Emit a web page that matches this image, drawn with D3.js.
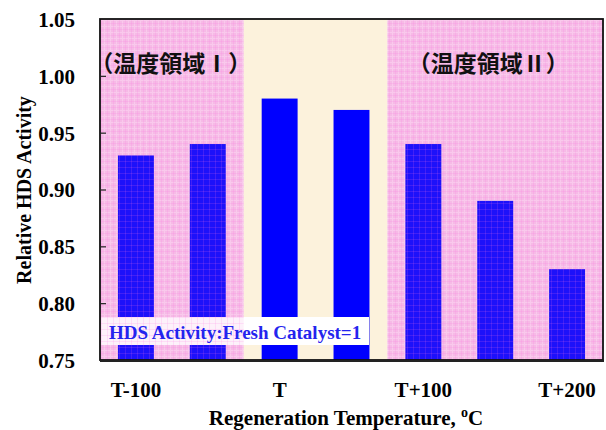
<!DOCTYPE html>
<html><head><meta charset="utf-8">
<script src="https://cdn.jsdelivr.net/npm/d3@7/dist/d3.min.js"></script>
<style>body{margin:0;background:#fff}svg{display:block}
.serif{font-family:"Liberation Serif","Times New Roman",Times,serif;font-weight:bold}
.cjk{font-family:"Noto Sans CJK JP","Noto Sans CJK SC",sans-serif}
</style>
</head><body><svg id="c" width="606" height="430"></svg>
<script>
const categories = ["T-100","T-50","T","T+50","T+100","T+150","T+200"];
const activity = [0.93,0.94,0.98,0.97,0.94,0.89,0.83];
const tickLabels = ["T-100","T","T+100","T+200"];
const yTicks = [0.75,0.80,0.85,0.90,0.95,1.00,1.05];
const regionLabels = ["（温度領域Ⅰ）","（温度領域Ⅱ）"];
const regions = [
  {from:"T-100", to:"T-50", kind:"pink"},
  {from:"T", to:"T+50", kind:"beige"},
  {from:"T+100", to:"T+200", kind:"pink"}
];

const svg = d3.select("#c");
const L=100, R=603, T=19, B=360;
const x = d3.scaleBand().domain(categories).range([L,R]).paddingInner(0.5).paddingOuter(0.25);
const y = d3.scaleLinear().domain([0.75,1.05]).range([B,T]);
const step = x.step();
const edgeL = c => Math.max(L, x(c) - step*0.25);
const edgeR = c => Math.min(R, x(c) + x.bandwidth() + step*0.25);

const defs = svg.append("defs");
const pat = defs.append("pattern").attr("id","grid").attr("patternUnits","userSpaceOnUse").attr("width",6).attr("height",6);
pat.append("rect").attr("width",6).attr("height",6).attr("fill","#f7c0e8");
pat.append("rect").attr("x",0).attr("y",2).attr("width",6).attr("height",1).attr("fill","#fad2ef");
pat.append("rect").attr("x",2).attr("y",0).attr("width",1).attr("height",6).attr("fill","#fad2ef");
const pat2 = defs.append("pattern").attr("id","gridov").attr("patternUnits","userSpaceOnUse").attr("width",6).attr("height",6);
pat2.append("rect").attr("width",6).attr("height",6).attr("fill","#f590dc").attr("opacity",0.12);
pat2.append("rect").attr("x",0).attr("y",5).attr("width",6).attr("height",1).attr("fill","#ff70e0").attr("opacity",0.16);
pat2.append("rect").attr("x",5).attr("y",0).attr("width",1).attr("height",6).attr("fill","#ff70e0").attr("opacity",0.16);

// backgrounds
svg.selectAll("rect.bg").data(regions).join("rect").attr("class","bg")
  .attr("x",d=>edgeL(d.from)).attr("y",T)
  .attr("width",d=>edgeR(d.to)-edgeL(d.from)).attr("height",B-T)
  .attr("fill",d=>d.kind==="pink"?"url(#grid)":"#fcf2dc");

// bars
svg.selectAll("rect.bar").data(categories).join("rect").attr("class","bar")
  .attr("x",d=>x(d)).attr("width",x.bandwidth())
  .attr("y",(d,i)=>y(activity[i])).attr("height",(d,i)=>B-y(activity[i]))
  .attr("fill","#0000ff");

// legend box (opaque white)
svg.append("rect").attr("x",L+1).attr("y",317).attr("width",268).attr("height",28).attr("fill","#fff");

// pink overlay over bars and box
svg.selectAll("rect.ov").data(regions.filter(r=>r.kind==="pink")).join("rect").attr("class","ov")
  .attr("x",d=>edgeL(d.from)).attr("y",T)
  .attr("width",d=>edgeR(d.to)-edgeL(d.from)).attr("height",B-T)
  .attr("fill","url(#gridov)");

svg.append("text").attr("class","serif").attr("x",109).attr("y",339)
  .attr("font-size",19).attr("fill","#2424ee").text("HDS Activity:Fresh Catalyst=1");

// region labels
const pinkRegs = regions.filter(r=>r.kind==="pink");
svg.selectAll("text.reg").data(regionLabels).join("text").attr("class","reg cjk")
  .attr("x",(d,i)=> (edgeL(pinkRegs[i].from)+edgeR(pinkRegs[i].to))/2 + (i===0?-1:-7))
  .attr("y",72).attr("text-anchor","middle")
  .attr("font-size",23).attr("font-weight","bold")
  .attr("fill","#111").text(d=>d);

// frame
svg.append("rect").attr("x",L).attr("y",T).attr("width",R-L).attr("height",B-T)
  .attr("fill","none").attr("stroke","#111").attr("stroke-width",1.8);
svg.append("line").attr("x1",L).attr("x2",R+1).attr("y1",B+1).attr("y2",B+1).attr("stroke","#222").attr("stroke-width",2.2);

// y axis
const yAxis = d3.axisLeft(y).tickValues(yTicks).tickFormat(d3.format(".2f")).tickSizeInner(-6).tickSizeOuter(0).tickPadding(25);
const gy = svg.append("g").attr("transform",`translate(${L},0)`).call(yAxis);
gy.attr("font-family",null).attr("font-size",null);
gy.select(".domain").remove();
gy.selectAll(".tick line").attr("stroke","#222").attr("stroke-width",1.2);
gy.selectAll(".tick").filter(d=>d===0.75||d===1.05).select("line").remove();
gy.selectAll("text").attr("class","serif").attr("font-size",21).attr("fill","#000").attr("dy","0.35em");

// x axis
const xAxis = d3.axisBottom(x).tickValues(categories.filter(c=>tickLabels.includes(c))).tickSize(0).tickPadding(22);
const gx = svg.append("g").attr("transform",`translate(0,${B})`).call(xAxis);
gx.attr("font-family",null).attr("font-size",null);
gx.select(".domain").remove();
gx.selectAll("text").attr("class","serif").attr("font-size",21).attr("fill","#000");

// axis titles
svg.append("text").attr("class","serif").attr("transform","translate(31,190) rotate(-90)").attr("text-anchor","middle")
  .attr("font-size",20).attr("fill","#000").text("Relative HDS Activity");
const xt = svg.append("text").attr("class","serif").attr("x",346).attr("y",425).attr("text-anchor","middle")
  .attr("font-size",21).attr("fill","#000");
xt.append("tspan").text("Regeneration Temperature, ");
xt.append("tspan").attr("dy",-8).attr("font-size",14).text("o");
xt.append("tspan").attr("dy",8).text("C");
</script></body></html>
